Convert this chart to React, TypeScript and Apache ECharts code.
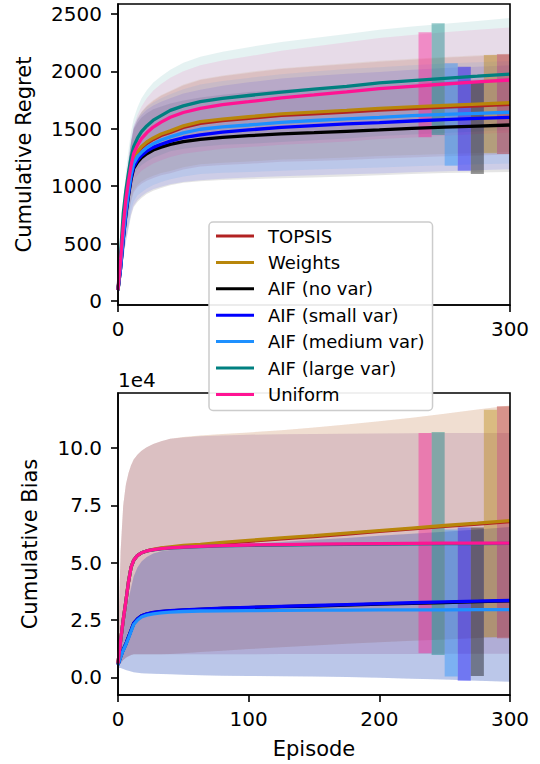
import React, { useEffect, useRef } from "react";
import * as echarts from "echarts";

// ---------- data ----------
const NAMES = ["TOPSIS", "Weights", "AIF (no var)", "AIF (small var)", "AIF (medium var)", "AIF (large var)", "Uniform"];
const COLORS = ["#b22222", "#b8860b", "#000000", "#0000ff", "#1e90ff", "#008080", "#ff1493"];

const episodes = [0, 2, 4, 6, 8, 10, 12, 15, 18, 22, 27, 33, 40, 50, 63, 80, 100, 125, 150, 175, 200, 225, 250, 275, 300];

// Cumulative regret (means)
const regretTopsis = [95, 325, 595, 812, 972, 1120, 1222, 1288, 1333, 1372, 1407, 1441, 1468, 1511, 1548, 1571, 1591, 1616, 1631, 1646, 1663, 1676, 1689, 1700, 1712];
const regretWeights = [95, 330, 600, 820, 980, 1130, 1234, 1300, 1345, 1385, 1420, 1455, 1482, 1525, 1562, 1585, 1605, 1630, 1645, 1660, 1677, 1690, 1703, 1715, 1727];
const regretNoVar = [95, 285, 530, 750, 915, 1060, 1156, 1210, 1248, 1283, 1315, 1340, 1364, 1388, 1408, 1425, 1440, 1455, 1466, 1478, 1490, 1504, 1514, 1524, 1533];
const regretSmallVar = [95, 290, 540, 760, 930, 1075, 1170, 1230, 1268, 1305, 1338, 1365, 1392, 1422, 1446, 1470, 1490, 1512, 1528, 1542, 1553, 1568, 1580, 1590, 1600];
const regretMediumVar = [95, 300, 560, 780, 950, 1100, 1199, 1260, 1295, 1335, 1370, 1402, 1430, 1465, 1496, 1516, 1533, 1555, 1572, 1587, 1600, 1614, 1625, 1635, 1644];
const regretLargeVar = [95, 420, 760, 960, 1115, 1250, 1345, 1420, 1475, 1525, 1575, 1615, 1660, 1700, 1736, 1765, 1790, 1820, 1845, 1870, 1900, 1920, 1940, 1958, 1977];
const regretUniform = [95, 360, 650, 880, 1040, 1180, 1285, 1360, 1415, 1465, 1515, 1558, 1600, 1642, 1678, 1710, 1736, 1770, 1795, 1822, 1850, 1870, 1890, 1908, 1925];

// Cumulative regret (std)
const regretStdTopsis = [10, 72, 133, 184, 225, 255, 276, 296, 311, 324, 336, 346, 356, 366, 376, 386, 396, 404, 411, 417, 422, 426, 429, 432, 435];
const regretStdWeights = [10, 70, 130, 180, 220, 250, 270, 290, 305, 318, 330, 340, 350, 360, 370, 380, 390, 398, 405, 410, 415, 419, 422, 425, 428];
const regretStdNoVar = [10, 90, 170, 240, 290, 320, 340, 345, 350, 352, 355, 355, 356, 358, 365, 372, 380, 385, 390, 393, 395, 397, 400, 405, 410];
const regretStdSmallVar = [10, 90, 170, 240, 290, 320, 340, 350, 355, 360, 365, 370, 375, 385, 395, 405, 415, 425, 432, 438, 442, 446, 449, 451, 453];
const regretStdMediumVar = [10, 85, 165, 230, 280, 310, 330, 340, 348, 355, 360, 365, 370, 380, 390, 400, 410, 420, 427, 433, 437, 440, 443, 445, 446];
const regretStdLargeVar = [10, 60, 120, 165, 200, 225, 245, 270, 290, 310, 328, 342, 355, 375, 392, 405, 421, 435, 445, 455, 463, 470, 476, 482, 487];
const regretStdUniform = [10, 60, 115, 160, 195, 220, 240, 262, 280, 300, 318, 332, 345, 360, 375, 385, 395, 410, 422, 432, 440, 446, 450, 454, 457];

// Cumulative bias (x 1e4, means)
const biasTopsis = [0.6, 1.6, 2.5, 3.3, 4.15, 4.8, 5.1, 5.32, 5.43, 5.51, 5.57, 5.62, 5.66, 5.71, 5.76, 5.84, 5.93, 6.04, 6.14, 6.25, 6.36, 6.47, 6.58, 6.68, 6.79];
const biasWeights = [0.6, 1.6, 2.5, 3.3, 4.15, 4.8, 5.1, 5.32, 5.43, 5.51, 5.58, 5.64, 5.69, 5.75, 5.8, 5.88, 5.97, 6.08, 6.18, 6.29, 6.4, 6.51, 6.62, 6.72, 6.83];
const biasNoVar = [0.55, 0.9, 1.2, 1.45, 1.75, 2.05, 2.35, 2.55, 2.68, 2.76, 2.82, 2.86, 2.9, 2.93, 2.96, 3.0, 3.04, 3.08, 3.11, 3.15, 3.19, 3.22, 3.26, 3.3, 3.33];
const biasSmallVar = [0.55, 0.9, 1.2, 1.45, 1.75, 2.05, 2.35, 2.55, 2.68, 2.77, 2.83, 2.87, 2.91, 2.94, 2.97, 3.01, 3.05, 3.09, 3.13, 3.17, 3.21, 3.25, 3.29, 3.32, 3.35];
const biasMediumVar = [0.55, 0.88, 1.17, 1.42, 1.7, 2.0, 2.3, 2.5, 2.63, 2.71, 2.77, 2.81, 2.84, 2.87, 2.89, 2.9, 2.91, 2.92, 2.93, 2.93, 2.94, 2.94, 2.94, 2.95, 2.95];
const biasLargeVar = [0.6, 1.6, 2.5, 3.3, 4.15, 4.8, 5.1, 5.32, 5.43, 5.51, 5.56, 5.6, 5.63, 5.67, 5.7, 5.73, 5.75, 5.77, 5.79, 5.8, 5.81, 5.82, 5.83, 5.83, 5.84];
const biasUniform = [0.6, 1.6, 2.5, 3.3, 4.15, 4.8, 5.1, 5.32, 5.43, 5.51, 5.57, 5.61, 5.64, 5.68, 5.71, 5.74, 5.77, 5.79, 5.81, 5.82, 5.83, 5.84, 5.85, 5.85, 5.85];

// Cumulative bias bands (x 1e4): TOPSIS / Weights
const biasLowA = [0.45, 0.6, 0.75, 0.85, 0.92, 0.97, 1.0, 1.0, 1.0, 1.0, 1.0, 1.0, 1.02, 1.05, 1.1, 1.16, 1.23, 1.31, 1.39, 1.46, 1.53, 1.59, 1.65, 1.71, 1.77];
const biasHighA = [1.5, 5.5, 7.5, 8.4, 8.9, 9.25, 9.5, 9.72, 9.88, 10.03, 10.17, 10.3, 10.4, 10.48, 10.55, 10.61, 10.68, 10.78, 10.9, 11.03, 11.17, 11.32, 11.5, 11.68, 11.86];
// AIF (large var) / Uniform
const biasLowB = [0.45, 0.6, 0.75, 0.85, 0.92, 0.97, 1.0, 1.0, 1.0, 1.0, 1.0, 1.0, 1.0, 1.0, 1.0, 1.0, 1.0, 1.01, 1.01, 1.02, 1.02, 1.02, 1.03, 1.03, 1.03];
const biasHighB = [1.5, 5.5, 7.5, 8.4, 8.9, 9.25, 9.5, 9.72, 9.88, 10.03, 10.17, 10.3, 10.4, 10.46, 10.51, 10.55, 10.58, 10.6, 10.61, 10.62, 10.63, 10.64, 10.65, 10.65, 10.66];
// AIF (no / small / medium var)
const biasLowC = [0.4, 0.4, 0.36, 0.32, 0.28, 0.25, 0.22, 0.2, 0.18, 0.16, 0.15, 0.14, 0.13, 0.11, 0.09, 0.07, 0.06, 0.05, 0.03, 0.01, -0.02, -0.06, -0.1, -0.15, -0.2];
const biasHighC = [0.7, 1.5, 2.2, 2.8, 3.4, 3.9, 4.4, 4.8, 5.05, 5.25, 5.4, 5.5, 5.55, 5.62, 5.68, 5.75, 5.82, 5.9, 6.0, 6.08, 6.17, 6.26, 6.35, 6.45, 6.55];

// Final-value boxes (series order: TOPSIS, Weights, no, small, medium, large, Uniform)
const boxStart = [290, 280, 270, 260, 250, 240, 230];
const regretBoxLow = [1280, 1287, 1106, 1135, 1178, 1446, 1426];
const regretBoxHigh = [2149, 2143, 1900, 2041, 2070, 2419, 2340];
const biasBoxLow = [1.7, 1.75, 0.06, -0.15, 0.03, 0.97, 1.05];
const biasBoxHigh = [11.82, 11.67, 6.53, 6.53, 6.45, 10.7, 10.65];

const regretTicks = [0, 500, 1000, 1500, 2000, 2500];
const biasTicks = [0, 2.5, 5, 7.5, 10];
const episodeTicksTop = [0, 300];

// ---------- helpers ----------
const FONT = "DejaVu Sans";
const BOX_W = 10;

function rgba(hex: string, a: number) {
  const n = parseInt(hex.slice(1), 16);
  return `rgba(${(n >> 16) & 255},${(n >> 8) & 255},${n & 255},${a})`;
}

function bandSeries(idx: number, ax: number, lo: number[], hi: number[], color: string) {
  return {
    type: "custom",
    name: "band-" + ax + "-" + idx,
    xAxisIndex: ax,
    yAxisIndex: ax,
    silent: true,
    clip: true,
    z: 1,
    data: [[0, 0]],
    renderItem: (_p: any, api: any) => {
      const pts: number[][] = [];
      for (let i = 0; i < episodes.length; i++) pts.push(api.coord([episodes[i], hi[i]]));
      for (let i = episodes.length - 1; i >= 0; i--) pts.push(api.coord([episodes[i], lo[i]]));
      return { type: "polygon", shape: { points: pts }, style: { fill: rgba(color, 0.1), stroke: "none" } };
    },
  };
}

function boxSeries(ax: number, lows: number[], highs: number[]) {
  return {
    type: "custom",
    name: "box-" + ax,
    xAxisIndex: ax,
    yAxisIndex: ax,
    silent: true,
    clip: true,
    z: 2,
    encode: { x: [0, 1], y: [2, 3] },
    data: boxStart.map((s, i) => [s, s + BOX_W, lows[i], highs[i], i]),
    renderItem: (_p: any, api: any) => {
      const p0 = api.coord([api.value(0), api.value(3)]);
      const p1 = api.coord([api.value(1), api.value(2)]);
      return {
        type: "rect",
        shape: { x: p0[0], y: p0[1], width: p1[0] - p0[0], height: p1[1] - p0[1] },
        style: { fill: rgba(COLORS[api.value(4)], 0.4) },
      };
    },
  };
}

function lineSeries(idx: number, ax: number, vals: number[]) {
  return {
    type: "line",
    name: NAMES[idx],
    xAxisIndex: ax,
    yAxisIndex: ax,
    z: 3,
    symbol: "none",
    showSymbol: false,
    smooth: false,
    color: COLORS[idx],
    lineStyle: { width: 3.3, color: COLORS[idx] },
    data: episodes.map((x, i) => [x, vals[i]]),
  };
}

const axisCommon = {
  axisLine: { show: true, onZero: false, lineStyle: { color: "#000", width: 1.6 } },
  splitLine: { show: false },
};
const tickStyle = { show: true, inside: false, length: 7, lineStyle: { color: "#000", width: 1.6 } };
const labelStyle = { fontSize: 20, color: "#000", fontFamily: FONT };
const nameStyle = { fontSize: 21, color: "#000", fontFamily: FONT };

const regretMeans = [regretTopsis, regretWeights, regretNoVar, regretSmallVar, regretMediumVar, regretLargeVar, regretUniform];
const regretStds = [regretStdTopsis, regretStdWeights, regretStdNoVar, regretStdSmallVar, regretStdMediumVar, regretStdLargeVar, regretStdUniform];
const biasMeans = [biasTopsis, biasWeights, biasNoVar, biasSmallVar, biasMediumVar, biasLargeVar, biasUniform];
const biasLows = [biasLowA, biasLowA, biasLowC, biasLowC, biasLowC, biasLowB, biasLowB];
const biasHighs = [biasHighA, biasHighA, biasHighC, biasHighC, biasHighC, biasHighB, biasHighB];

function buildOption() {
  const series: any[] = [];
  regretMeans.forEach((m, i) => {
    const lo = m.map((v, k) => v - regretStds[i][k]);
    const hi = m.map((v, k) => v + regretStds[i][k]);
    series.push(bandSeries(i, 0, lo, hi, COLORS[i]));
  });
  biasMeans.forEach((_m, i) => series.push(bandSeries(i, 1, biasLows[i], biasHighs[i], COLORS[i])));
  series.push(boxSeries(0, regretBoxLow, regretBoxHigh));
  series.push(boxSeries(1, biasBoxLow, biasBoxHigh));
  regretMeans.forEach((m, i) => series.push(lineSeries(i, 0, m)));
  biasMeans.forEach((m, i) => series.push(lineSeries(i, 1, m)));

  const G0 = { left: 118, top: 4, width: 392, height: 301 };
  const G1 = { left: 118, top: 393, width: 392, height: 302 };

  return {
    animation: false,
    backgroundColor: "#fff",
    textStyle: { fontFamily: FONT },
    grid: [
      { ...G0, containLabel: false },
      { ...G1, containLabel: false },
    ],
    xAxis: [
      {
        type: "value",
        gridIndex: 0,
        min: 0,
        max: 300,
        interval: 100,
        ...axisCommon,
        axisTick: { ...tickStyle, customValues: episodeTicksTop },
        axisLabel: { ...labelStyle, margin: 14, customValues: episodeTicksTop },
      },
      {
        type: "value",
        gridIndex: 1,
        min: 0,
        max: 300,
        interval: 100,
        ...axisCommon,
        axisTick: tickStyle,
        axisLabel: { ...labelStyle, margin: 14 },
        name: "Episode",
        nameLocation: "middle",
        nameGap: 43,
        nameTextStyle: nameStyle,
      },
    ],
    yAxis: [
      {
        type: "value",
        gridIndex: 0,
        min: -35,
        max: 2587,
        ...axisCommon,
        axisTick: { ...tickStyle, customValues: regretTicks },
        axisLabel: { ...labelStyle, margin: 16, customValues: regretTicks, formatter: (v: number) => String(v) },
        name: "Cumulative Regret",
        nameLocation: "middle",
        nameGap: 84,
        nameTextStyle: nameStyle,
      },
      {
        type: "value",
        gridIndex: 1,
        min: -0.773,
        max: 12.4,
        ...axisCommon,
        axisTick: { ...tickStyle, customValues: biasTicks },
        axisLabel: { ...labelStyle, margin: 16, customValues: biasTicks, formatter: (v: number) => v.toFixed(1) },
        name: "Cumulative Bias",
        nameLocation: "middle",
        nameGap: 78,
        nameTextStyle: nameStyle,
      },
    ],
    legend: {
      data: NAMES.map((n) => ({ name: n, icon: "rect" })),
      orient: "vertical",
      left: 209,
      top: 222,
      z: 10,
      backgroundColor: "rgba(255,255,255,0.92)",
      borderColor: "#cccccc",
      borderWidth: 1.5,
      borderRadius: 4,
      padding: [5, 8, 7, 7],
      itemGap: 8.4,
      itemWidth: 38,
      itemHeight: 3,
      selectedMode: false,
      textStyle: { fontSize: 18, color: "#000", fontFamily: FONT, padding: [0, 0, 0, 9] },
    },
    graphic: [
      {
        type: "rect",
        z: 5,
        silent: true,
        shape: { x: G0.left, y: G0.top, width: G0.width, height: G0.height },
        style: { fill: "none", stroke: "#000", lineWidth: 1.6 },
      },
      {
        type: "rect",
        z: 5,
        silent: true,
        shape: { x: G1.left, y: G1.top, width: G1.width, height: G1.height },
        style: { fill: "none", stroke: "#000", lineWidth: 1.6 },
      },
      {
        type: "text",
        z: 5,
        left: 118,
        top: 370,
        style: { text: "1e4", fontSize: 20, fontFamily: FONT, fill: "#000" },
      },
    ],
    series,
  };
}

export default function App() {
  const ref = useRef<HTMLDivElement>(null);
  useEffect(() => {
    if (!ref.current) return;
    const chart = echarts.init(ref.current, null, { renderer: "svg" });
    chart.setOption(buildOption() as any);
    return () => chart.dispose();
  }, []);
  return <div ref={ref} style={{ position: "fixed", left: 0, top: 0, width: 540, height: 764 }} />;
}
